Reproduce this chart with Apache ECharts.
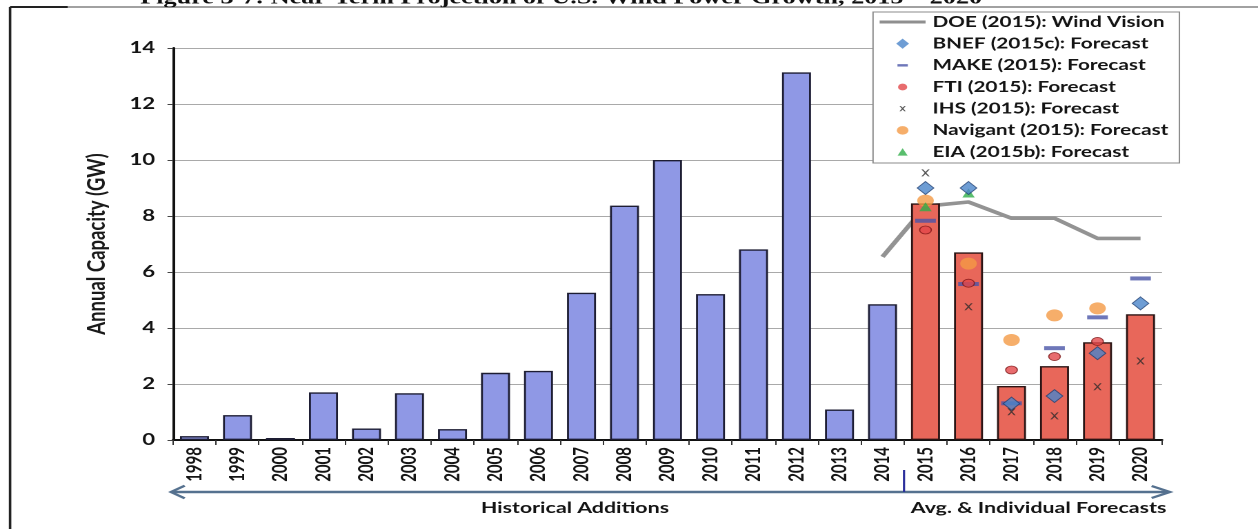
<!DOCTYPE html>
<html>
<head>
<meta charset="utf-8">
<script src="https://cdn.jsdelivr.net/npm/echarts@6/dist/echarts.min.js"></script>
<style>
  html, body { margin: 0; padding: 0; background: #fff; overflow: hidden; }
  #wrap { width: 1258px; height: 529px; overflow: hidden; position: relative; background: #fff; }
  /* the figure is laid out on a narrower canvas and widened, as in the printed page */
  #chart { width: 912px; height: 529px; transform: scaleX(1.3794); transform-origin: 0 0; }
</style>
</head>
<body>
<div id="wrap"><div id="chart"></div></div>
<script>
// ---- data (GW of annual capacity) ----
const years = ['1998','1999','2000','2001','2002','2003','2004','2005','2006','2007','2008',
               '2009','2010','2011','2012','2013','2014','2015','2016','2017','2018','2019','2020'];
const historicalYears = ['1998','1999','2000','2001','2002','2003','2004','2005','2006','2007','2008',
                         '2009','2010','2011','2012','2013','2014'];
const historicalAdditions = [0.14, 0.89, 0.07, 1.70, 0.41, 1.67, 0.39, 2.40, 2.47, 5.26, 8.37,
                             10.00, 5.21, 6.81, 13.13, 1.09, 4.85];
const forecastYears = ['2015','2016','2017','2018','2019','2020'];
const forecastAverage = [8.45, 6.70, 1.93, 2.64, 3.49, 4.49];

const doeYears = ['2014','2015','2016','2017','2018','2019','2020'];
const doeWindVision = [6.54, 8.35, 8.50, 7.92, 7.92, 7.20, 7.20];

const bnef     = [9.00, 9.00, 1.30, 1.57, 3.10, 4.88];
const make     = [7.83, 5.57, 1.31, 3.28, 4.38, 5.77];
const fti      = [7.50, 5.60, 2.50, 2.98, 3.52, null];
const ihs      = [9.54, 4.76, 1.01, 0.86, 1.90, 2.82];
const navigant = [8.55, 6.30, 3.57, 4.45, 4.70, null];
const eia      = [8.33, 8.82, null, null, null, null];

const seriesNames = ['DOE (2015): Wind Vision', 'BNEF (2015c): Forecast', 'MAKE (2015): Forecast',
                     'FTI (2015): Forecast', 'IHS (2015): Forecast', 'Navigant (2015): Forecast',
                     'EIA (2015b): Forecast'];
const yTicks = { min: 0, max: 14, step: 2 };
const bandLabels = ['Historical Additions', 'Avg. & Individual Forecasts'];
const figureTitle = 'Figure 3-7: Near-Term Projection of U.S. Wind Power Growth, 2015 \u2013 2020';

// ---- helpers ----
function byYear(keys, values) {
  const map = {};
  keys.forEach((k, i) => { map[k] = values[i]; });
  return years.map(y => (y in map && map[y] != null) ? map[y] : null);
}
function points(keys, values) {
  return keys.map((k, i) => [k, values[i]]).filter(p => p[1] != null);
}

// legend icons drawn inside a fixed 33.3 x 12 frame so every glyph keeps its own size
const FRAME = 'M0,0 L0,0 M33.3,12 L33.3,12 ';
const icons = {
  line: FRAME + 'M0,4.5 L33.3,4.5 L33.3,7.5 L0,7.5 Z',
  diamond: FRAME + 'M16.65,0.9 L21.3,6 L16.65,11.1 L12,6 Z',
  dash: FRAME + 'M12.9,4.8 L20.4,4.8 L20.4,7.2 L12.9,7.2 Z',
  dot: FRAME + 'M13.3,6 A3.35,3.35 0 1 0 20,6 A3.35,3.35 0 1 0 13.3,6 Z',
  cross: FRAME + 'M14.4,3.4 L15.4,3.4 L16.65,5 L17.9,3.4 L18.9,3.4 L17.2,6 L18.9,8.6 L17.9,8.6 L16.65,7 L15.4,8.6 L14.4,8.6 L16.1,6 Z',
  bigDot: FRAME + 'M12.4,6 A4.25,4.25 0 1 0 20.9,6 A4.25,4.25 0 1 0 12.4,6 Z',
  triangle: FRAME + 'M16.65,2.2 L20.3,9.6 L13,9.6 Z'
};
const crossSymbol = 'path://M0,0 L2,0 L5,3.6 L8,0 L10,0 L6,5 L10,10 L8,10 L5,6.4 L2,10 L0,10 L4,5 Z';

const FONT = 'Lato';
const chart = echarts.init(document.getElementById('chart'), null, { renderer: 'canvas', devicePixelRatio: 2 });

const option = {
  animation: false,
  backgroundColor: '#fff',
  grid: { left: 125.4, right: 69.6, top: 48, bottom: 89 },
  xAxis: {
    type: 'category',
    data: years,
    boundaryGap: true,
    axisLine: { lineStyle: { color: '#111', width: 2 } },
    axisTick: { show: true, length: 5, lineStyle: { color: '#333', width: 1 } },
    axisLabel: { rotate: 90, margin: 7, fontFamily: FONT, fontWeight: 'bold', fontSize: 15, color: '#141414' },
    splitLine: { show: false }
  },
  yAxis: {
    type: 'value',
    min: yTicks.min, max: yTicks.max, interval: yTicks.step,
    name: 'Annual Capacity (GW)',
    nameLocation: 'middle',
    nameGap: 46,
    nameTextStyle: { fontFamily: FONT, fontWeight: 'bold', fontSize: 18.5, color: '#1a1a1a' },
    axisLine: { show: true, lineStyle: { color: '#111', width: 2 } },
    axisTick: { show: true, length: 4, lineStyle: { color: '#444', width: 1 } },
    axisLabel: { margin: 13, fontFamily: FONT, fontWeight: 'bold', fontSize: 16, color: '#141414' },
    splitLine: { lineStyle: { color: '#a9a9a9', width: 1 } }
  },
  legend: {
    orient: 'vertical',
    left: 632.9, top: 12,
    itemWidth: 33.3, itemHeight: 12, itemGap: 3.67,
    padding: [1, 8, 2, 4.8],
    borderColor: '#8c8c8c', borderWidth: 1,
    backgroundColor: '#fff',
    selectedMode: false,
    textStyle: { fontFamily: FONT, fontWeight: 'bold', fontSize: 15, lineHeight: 18, color: '#141414' },
    data: [
      { name: seriesNames[0], icon: 'path://' + icons.line, itemStyle: { color: '#8f8f8f', borderWidth: 0 } },
      { name: seriesNames[1], icon: 'path://' + icons.diamond, itemStyle: { borderWidth: 0 } },
      { name: seriesNames[2], icon: 'path://' + icons.dash, itemStyle: { borderWidth: 0 } },
      { name: seriesNames[3], icon: 'path://' + icons.dot, itemStyle: { borderWidth: 0 } },
      { name: seriesNames[4], icon: 'path://' + icons.cross, itemStyle: { borderWidth: 0 } },
      { name: seriesNames[5], icon: 'path://' + icons.bigDot, itemStyle: { borderWidth: 0 } },
      { name: seriesNames[6], icon: 'path://' + icons.triangle, itemStyle: { borderWidth: 0 } }
    ]
  },
  series: [
    {
      name: seriesNames[0], type: 'line', z: 1,
      data: byYear(doeYears, doeWindVision),
      color: '#8f8f8f',
      symbol: 'none', connectNulls: false,
      lineStyle: { color: '#939393', width: 3.6 }
    },
    {
      name: 'Historical Additions', type: 'bar', z: 2,
      data: byYear(historicalYears, historicalAdditions),
      barWidth: 21, barGap: '-100%',
      itemStyle: { color: '#8f98e5', borderColor: '#1d1d33', borderWidth: 1.4 }
    },
    {
      name: 'Forecast Average', type: 'bar', z: 2,
      data: byYear(forecastYears, forecastAverage),
      barWidth: 21, barGap: '-100%',
      itemStyle: { color: '#e8675a', borderColor: '#2a1414', borderWidth: 1.4 }
    },
    {
      name: seriesNames[2], type: 'scatter', z: 5,
      data: points(forecastYears, make),
      symbol: 'rect', symbolSize: [15, 4],
      itemStyle: { color: '#4a55a8' }
    },
    {
      name: seriesNames[3], type: 'scatter', z: 5,
      data: points(forecastYears, fti),
      symbol: 'circle', symbolSize: [8.5, 8],
      itemStyle: { color: '#e2474a', borderColor: '#7a1414', borderWidth: 0.8 }
    },
    {
      name: seriesNames[4], type: 'scatter', z: 5,
      data: points(forecastYears, ihs),
      symbol: crossSymbol, symbolSize: [6, 7],
      itemStyle: { color: '#2b2b2b' }
    },
    {
      name: seriesNames[5], type: 'scatter', z: 5,
      data: points(forecastYears, navigant),
      symbol: 'circle', symbolSize: [12, 12],
      itemStyle: { color: '#f49a45' }
    },
    {
      name: seriesNames[6], type: 'scatter', z: 5,
      data: points(forecastYears, eia),
      symbol: 'triangle', symbolSize: [9, 9],
      itemStyle: { color: '#2fae48' }
    },
    {
      name: seriesNames[1], type: 'scatter', z: 6,
      data: points(forecastYears, bnef),
      symbol: 'diamond', symbolSize: [12, 13],
      itemStyle: { color: '#4a84c9', borderColor: '#203f70', borderWidth: 0.8 }
    }
  ]
};
chart.setOption(option);

// ---- page frame, title strip and the period arrow under the axis ----
const lastHist = historicalYears[historicalYears.length - 1];
const firstFc = forecastYears[0];
const xa = chart.convertToPixel({ xAxisIndex: 0 }, lastHist);
const xb = chart.convertToPixel({ xAxisIndex: 0 }, firstFc);
const divideX = (xa + xb) / 2;
const axisLeft = chart.convertToPixel({ xAxisIndex: 0 }, years[0]) - (xb - xa) / 2;
const axisRight = chart.convertToPixel({ xAxisIndex: 0 }, years[years.length - 1]) + (xb - xa) / 2;
const arrowY = 492;
const arrowColor = '#55718f';

chart.setOption({
  graphic: [
    { type: 'line', shape: { x1: 7.3, y1: 7, x2: 912, y2: 7 }, style: { stroke: '#444', lineWidth: 1 }, silent: true },
    { type: 'line', shape: { x1: 7.3, y1: 7, x2: 49, y2: 7 }, style: { stroke: '#222', lineWidth: 2 }, silent: true },
    { type: 'line', shape: { x1: 7.3, y1: 7, x2: 7.3, y2: 529 }, style: { stroke: '#222', lineWidth: 1.8 }, silent: true },
    { type: 'text', silent: true, style: { text: figureTitle, x: 712, y: 8, align: 'right', verticalAlign: 'bottom',
        font: 'bold 19px "Liberation Serif"', fill: '#111' } },
    { type: 'line', shape: { x1: axisLeft - 1, y1: arrowY, x2: axisRight + 5, y2: arrowY },
      style: { stroke: arrowColor, lineWidth: 2.4 }, silent: true },
    { type: 'polyline', shape: { points: [[axisLeft + 8.5, arrowY - 6.3], [axisLeft - 1.5, arrowY], [axisLeft + 8.5, arrowY + 6.3]] },
      style: { stroke: arrowColor, lineWidth: 2.2, fill: null }, silent: true },
    { type: 'polyline', shape: { points: [[axisRight - 7.5, arrowY - 6], [axisRight + 5.8, arrowY], [axisRight - 7.5, arrowY + 6]] },
      style: { stroke: arrowColor, lineWidth: 2.2, fill: null }, silent: true },
    { type: 'line', shape: { x1: divideX, y1: 470, x2: divideX, y2: arrowY }, style: { stroke: '#2b2f9c', lineWidth: 1.6 }, silent: true },
    { type: 'text', silent: true, style: { text: bandLabels[0], x: 416.8, y: 508, align: 'center', verticalAlign: 'middle',
        font: 'bold 15.5px ' + FONT, fill: '#141414' } },
    { type: 'text', silent: true, style: { text: bandLabels[1], x: 660.2, y: 508, align: 'left', verticalAlign: 'middle',
        font: 'bold 15.5px ' + FONT, fill: '#141414' } }
  ]
});
</script>
</body>
</html>
